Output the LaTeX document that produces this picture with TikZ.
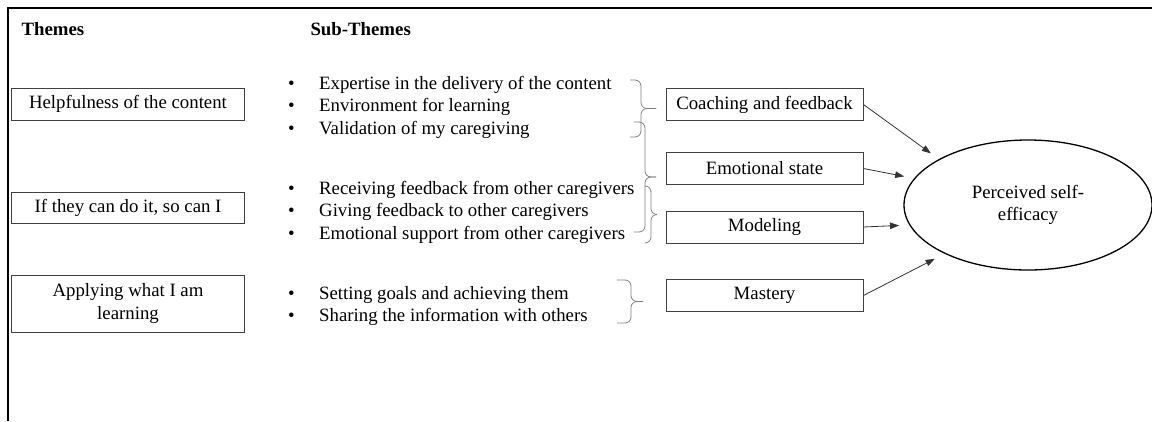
\documentclass[tikz,border=0pt]{standalone}
\usepackage{fontspec}
\setmainfont{Liberation Serif}
\usetikzlibrary{arrows.meta,shapes.geometric}

\newcommand{\bul}{\makebox[31pt][l]{\textbullet}}
% brace: end x, spine x, tip x, top y, bottom y
\newcommand{\brc}[5]{%
  \draw[br] (#1,#4) -- (#2,#4) -- (#2,{(#4+#5)/2}) -- (#3,{(#4+#5)/2});
  \draw[br] (#3,{(#4+#5)/2}) -- (#2,{(#4+#5)/2}) -- (#2,#5) -- (#1,#5);}

\begin{document}
\begin{tikzpicture}[x=1pt,y=-1pt,>={Triangle[length=9pt,width=6.5pt]},font=\fontsize{18.8}{22.5}\selectfont]
\tikzstyle{t}=[draw=black!75,line width=0.9pt,minimum width=233pt,align=center,inner sep=0pt]
\tikzstyle{s}=[draw=black!75,line width=0.9pt,minimum width=197pt,minimum height=32pt,inner sep=0pt]
\tikzstyle{l}=[anchor=west,align=left,inner sep=0pt]
\tikzstyle{br}=[draw=black!50,line width=0.8pt,rounded corners=6pt]
\tikzstyle{ar}=[->,draw=black!80,line width=0.8pt]
\useasboundingbox (0,0) rectangle (1152,421);
\draw[line width=2.4pt] (8,421) -- (8,8) -- (1152,8);
% headings
\node[anchor=west,font=\fontsize{18.8}{22.5}\selectfont\bfseries] (h1) at (18,29) {Themes};
\node[anchor=west,font=\fontsize{18.8}{22.5}\selectfont\bfseries] (h2) at (307,29) {Sub-Themes};
% themes
\node[t,minimum height=32pt] (help) at (128,104) {Helpfulness of the content};
\node[t,minimum height=31pt] (they) at (128,207.5) {If they can do it, so can I};
\node[t,minimum height=57pt] (appl) at (128,303.5) {Applying what I am\\ learning};
% sub-themes
\node[l] (sub1) at (288,107) {\bul Expertise in the delivery of the content\\ \bul Environment for learning\\ \bul Validation of my caregiving};
\node[l] (sub2) at (288,212) {\bul Receiving feedback from other caregivers\\ \bul Giving feedback to other caregivers\\ \bul Emotional support from other caregivers};
\node[l] (sub3) at (288,306) {\bul Setting goals and achieving them\\ \bul Sharing the information with others};
% braces
\brc{630}{641}{656}{80}{137}
\brc{634}{645}{656}{122}{232}
\brc{645}{651}{657}{186}{243}
\brc{617}{631}{643}{280}{323}
% sources
\node[s] (coach) at (764.5,104.5) {Coaching and feedback};
\node[s] (emo) at (764.5,168.5) {Emotional state};
\node[s] (mod) at (764.5,227) {Modeling};
\node[s] (mas) at (764.5,295.5) {Mastery};
\node[draw,ellipse,line width=1.3pt,minimum width=248pt,minimum height=130pt,outer sep=10pt,align=center] (eff) at (1028,205) {Perceived self-\\ efficacy};
\draw[ar] (coach.east) -- (eff.152);
\draw[ar] (emo.east) -- (eff.167);
\draw[ar] (mod.east) -- (eff.189);
\draw[ar] (mas.east) -- (eff.210);
\end{tikzpicture}
\end{document}
